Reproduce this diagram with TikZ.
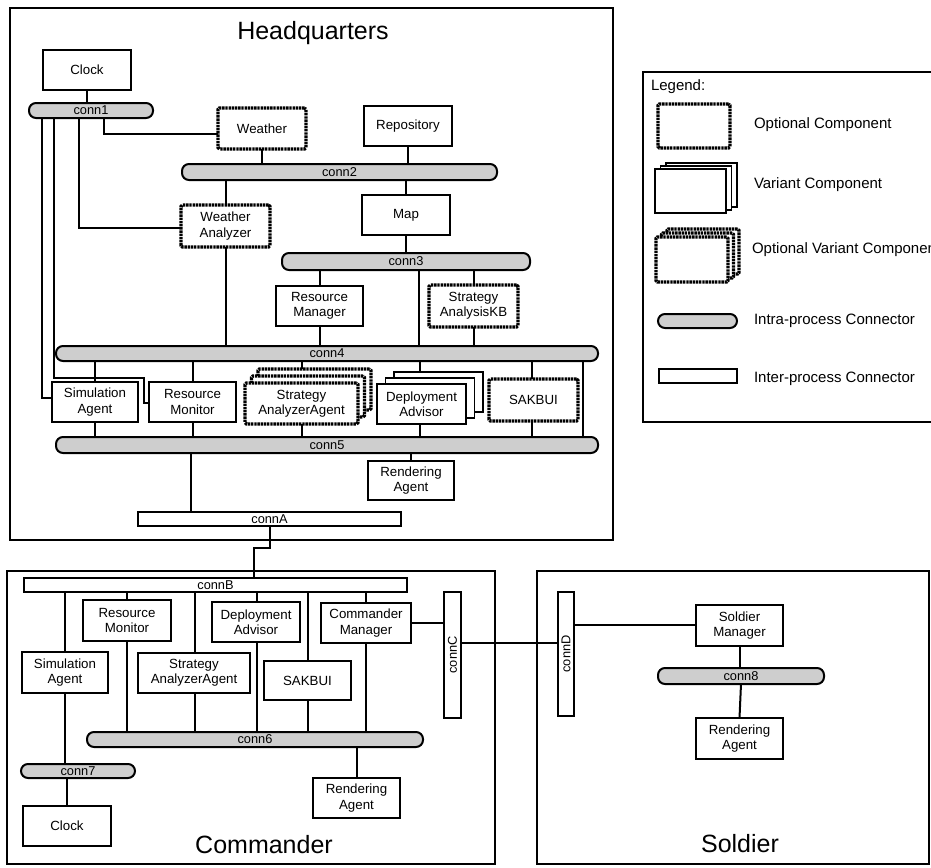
\documentclass[tikz,border=0pt]{standalone}
\usepackage{fontspec}
\setmainfont{Liberation Sans}
\usetikzlibrary{calc}
\definecolor{pillgray}{RGB}{206,206,206}
\newcommand\comptext{\fontsize{13.3}{15.3}\selectfont}
\newcommand\connlabel{\fontsize{12.8}{14}\selectfont}
\newcommand\legtext{\fontsize{15}{17}\selectfont}
\newcommand\titletext{\fontsize{25}{28}\selectfont}
\begin{document}
\begin{tikzpicture}[x=1pt,y=-1pt,
  every node/.style={inner sep=0pt, outer sep=0pt},
  comp/.style={draw, line width=1.9pt, fill=white, align=center, font=\comptext},
  optcomp/.style={comp, line width=3.2pt, dash pattern=on 2.4pt off 0.8pt, rounded corners=1.5pt},
  pill/.style={draw, line width=2pt, fill=pillgray, rounded corners=7pt, font=\connlabel},
  inter/.style={draw, line width=2pt, fill=white, font=\connlabel},
  wire/.style={line width=2pt},
  container/.style={draw, line width=2pt},
  title/.style={font=\titletext, anchor=base},
  legitem/.style={font=\legtext, anchor=west},
]
\useasboundingbox (0,0) rectangle (931,867);
\clip (0,0) rectangle (931,867);

% ---------------- containers ----------------
\node[container, minimum width=603pt, minimum height=532pt] (hq) at (311.5,274) {};
\node[container, minimum width=488pt, minimum height=293pt] (cmd) at (251,717.5) {};
\node[container, minimum width=392pt, minimum height=293pt] (sol) at (733,717.5) {};
\node[title] (hqtitle) at (313,40) {Headquarters};
\node[title] (cmdtitle) at (264,853) {Commander};
\node[title] (soltitle) at (740,852) {Soldier};

% ---------------- legend ----------------
\node[container, minimum width=300pt, minimum height=350pt, anchor=north west] (legend) at (643,72) {};
\node[legitem] (legtitle) at (651,87) {Legend:};
\node[optcomp, minimum width=72pt, minimum height=44pt] (lg1) at (694,126) {};
\node[legitem] (lg1t) at (754,125) {Optional Component};
\node[comp, minimum width=71pt, minimum height=44pt] (lg2c) at (701.5,185) {};
\node[comp, minimum width=71pt, minimum height=44pt] (lg2b) at (696,188) {};
\node[comp, minimum width=71pt, minimum height=44pt] (lg2) at (690.5,191) {};
\node[legitem] (lg2t) at (754,185) {Variant Component};
\node[optcomp, minimum width=72pt, minimum height=45pt] (lg3c) at (703,251.5) {};
\node[optcomp, minimum width=72pt, minimum height=45pt] (lg3b) at (697.5,255.5) {};
\node[optcomp, minimum width=72pt, minimum height=45pt] (lg3) at (692,259.5) {};
\node[legitem] (lg3t) at (752,250) {Optional Variant Component};
\node[pill, minimum width=79pt, minimum height=14pt] (lg4) at (697.5,321) {};
\node[legitem] (lg4t) at (754,321) {Intra-process Connector};
\node[inter, minimum width=78pt, minimum height=14pt] (lg5) at (698,376) {};
\node[legitem] (lg5t) at (754,379) {Inter-process Connector};

% ---------------- Headquarters ----------------
\node[comp, minimum width=88pt, minimum height=40pt] (clockH) at (87,70) {Clock};
\node[pill, minimum width=124pt, minimum height=15pt] (conn1) at (91,110.5) {conn1};
\node[optcomp, minimum width=88pt, minimum height=41pt] (weather) at (262,128.5) {Weather};
\node[comp, minimum width=88pt, minimum height=40pt] (repo) at (408,126) {Repository};
\node[pill, minimum width=315pt, minimum height=16pt] (conn2) at (339.5,172) {conn2};
\node[comp, minimum width=88pt, minimum height=40pt] (map) at (406,215) {Map};
\node[optcomp, minimum width=89pt, minimum height=42pt] (wa) at (225.5,226) {Weather\\Analyzer};
\node[pill, minimum width=248pt, minimum height=17pt] (conn3) at (406,261.5) {conn3};
\node[comp, minimum width=87pt, minimum height=40pt] (rman) at (319.5,306) {Resource\\Manager};
\node[optcomp, minimum width=89pt, minimum height=42pt] (kb) at (473.5,306) {Strategy\\AnalysisKB};
\node[pill, minimum width=542pt, minimum height=15pt] (conn4) at (327,353.5) {conn4};
\node[comp, minimum width=86pt, minimum height=40pt] (simH) at (95,402) {Simulation\\Agent};
\node[comp, minimum width=87pt, minimum height=40pt] (rmonH) at (192.5,402) {Resource\\Monitor};
\node[optcomp, minimum width=113pt, minimum height=41pt] (saaH3) at (314.5,389.5) {};
\node[optcomp, minimum width=113pt, minimum height=41pt] (saaH2) at (308,396.5) {};
\node[optcomp, minimum width=113pt, minimum height=41pt] (saaH) at (301.5,403.5) {Strategy\\AnalyzerAgent};
\node[comp, minimum width=89pt, minimum height=40pt] (daH3) at (438.5,392) {};
\node[comp, minimum width=89pt, minimum height=40pt] (daH2) at (430,398) {};
\node[comp, minimum width=89pt, minimum height=40pt] (daH) at (421.5,404) {Deployment\\Advisor};
\node[optcomp, minimum width=89pt, minimum height=42pt] (sakH) at (533.5,400) {SAKBUI};
\node[pill, minimum width=542pt, minimum height=16pt] (conn5) at (327,445) {conn5};
\node[comp, minimum width=86pt, minimum height=39pt] (rendH) at (411,480.5) {Rendering\\Agent};
\node[inter, minimum width=263pt, minimum height=14pt] (connA) at (269.5,519) {connA};

% HQ wiring
\draw[wire] (clockH.south) -- (clockH.south |- conn1.north);
\draw[wire] ([xshift=13pt]conn1.south) |- ([yshift=-5pt]weather.west);
\draw[wire] ([xshift=-12pt]conn1.south) |- ([yshift=-2pt]wa.west);
\draw[wire] ([xshift=-49pt]conn1.south) |- ([yshift=4pt]simH.west);
\draw[wire] ([xshift=-37pt]conn1.south) |- ($(rmonH.west)+(-5,-24)$) |- ([yshift=-1pt]rmonH.west);
\draw[wire] (weather.south) -- (weather.south |- conn2.north);
\draw[wire] (repo.south) -- (repo.south |- conn2.north);
\draw[wire] (map.north |- conn2.south) -- (map.north);
\draw[wire] (wa.north |- conn2.south) -- (wa.north);
\draw[wire] (map.south) -- (map.south |- conn3.north);
\draw[wire] (rman.north |- conn3.south) -- (rman.north);
\draw[wire] (kb.north |- conn3.south) -- (kb.north);
\draw[wire] ([xshift=13pt]conn3.south) -- ([xshift=13pt]conn3.south |- conn4.north);
\draw[wire] (wa.south) -- (wa.south |- conn4.north);
\draw[wire] (rman.south) -- (rman.south |- conn4.north);
\draw[wire] (kb.south) -- (kb.south |- conn4.north);
\draw[wire] (simH.north |- conn4.south) -- (simH.north);
\draw[wire] (rmonH.north |- conn4.south) -- (rmonH.north);
\draw[wire] (saaH.north |- conn4.south) -- (saaH.north |- saaH3.north);
\draw[wire] ([xshift=-1.5pt]daH.north |- conn4.south) -- ([xshift=-1.5pt]daH.north |- daH3.north);
\draw[wire] ([xshift=-1.5pt]sakH.north |- conn4.south) -- ([xshift=-1.5pt]sakH.north);
\draw[wire] ([xshift=256pt]conn4.south) -- ([xshift=256pt]conn4.south |- conn5.north);
\draw[wire] (simH.south) -- (simH.south |- conn5.north);
\draw[wire] (rmonH.south) -- (rmonH.south |- conn5.north);
\draw[wire] (saaH.south) -- (saaH.south |- conn5.north);
\draw[wire] ([xshift=-1.5pt]daH.south) -- ([xshift=-1.5pt]daH.south |- conn5.north);
\draw[wire] ([xshift=-1.5pt]sakH.south) -- ([xshift=-1.5pt]sakH.south |- conn5.north);
\draw[wire] (rendH.north |- conn5.south) -- (rendH.north);
\draw[wire] ([xshift=-136pt]conn5.south) -- ([xshift=-136pt]conn5.south |- connA.north);

% ---------------- Commander ----------------
\node[inter, minimum width=383pt, minimum height=14pt] (connB) at (215.5,585) {connB};
\node[comp, minimum width=88pt, minimum height=41pt] (rmonC) at (127,620.5) {Resource\\Monitor};
\node[comp, minimum width=88pt, minimum height=40pt] (daC) at (256,622) {Deployment\\Advisor};
\node[comp, minimum width=90pt, minimum height=40pt] (cmC) at (366,623) {Commander\\Manager};
\node[comp, minimum width=86pt, minimum height=41pt] (simC) at (65,672.5) {Simulation\\Agent};
\node[comp, minimum width=112pt, minimum height=40pt] (saaC) at (194,673) {Strategy\\AnalyzerAgent};
\node[comp, minimum width=87pt, minimum height=39pt] (sakC) at (307.5,680.5) {SAKBUI};
\node[pill, minimum width=336pt, minimum height=15pt] (conn6) at (255,739.5) {conn6};
\node[comp, minimum width=87pt, minimum height=40pt] (rendC) at (356.5,798) {Rendering\\Agent};
\node[pill, minimum width=114pt, minimum height=14pt] (conn7) at (78,771) {conn7};
\node[comp, minimum width=88pt, minimum height=40pt] (clockC) at (67,826) {Clock};
\node[inter, minimum width=17pt, minimum height=126pt] (connC) at (452.5,655) {};
\node[rotate=90, font=\connlabel] (connClbl) at (connC) {connC};

% connA to connB
\draw[wire] (connA.south) -- ++(0,22) -| ([xshift=38.5pt]connB.north);

% Commander wiring
\draw[wire] (simC.north |- connB.south) -- (simC.north);
\draw[wire] (rmonC.north |- connB.south) -- (rmonC.north);
\draw[wire] ([xshift=1pt]saaC.north |- connB.south) -- ([xshift=1pt]saaC.north);
\draw[wire] ([xshift=1pt]daC.north |- connB.south) -- ([xshift=1pt]daC.north);
\draw[wire] (sakC.north |- connB.south) -- (sakC.north);
\draw[wire] (cmC.north |- connB.south) -- (cmC.north);
\draw[wire] (rmonC.south) -- (rmonC.south |- conn6.north);
\draw[wire] ([xshift=1pt]saaC.south) -- ([xshift=1pt]saaC.south |- conn6.north);
\draw[wire] ([xshift=1pt]daC.south) -- ([xshift=1pt]daC.south |- conn6.north);
\draw[wire] (sakC.south) -- (sakC.south |- conn6.north);
\draw[wire] (cmC.south) -- (cmC.south |- conn6.north);
\draw[wire] (rendC.north |- conn6.south) -- (rendC.north);
\draw[wire] (simC.south) -- (simC.south |- conn7.north);
\draw[wire] (clockC.north |- conn7.south) -- (clockC.north);
\draw[wire] (cmC.east) -- (cmC.east -| connC.west);

% ---------------- Soldier ----------------
\node[inter, minimum width=16pt, minimum height=124pt] (connD) at (566,654) {};
\node[rotate=90, font=\connlabel] (connDlbl) at (connD) {connD};
\node[comp, minimum width=87pt, minimum height=41pt] (sm) at (739.5,625.5) {Soldier\\Manager};
\node[pill, minimum width=166pt, minimum height=16pt] (conn8) at (741,676) {conn8};
\node[comp, minimum width=87pt, minimum height=41pt] (rendS) at (739.5,738.5) {Rendering\\Agent};

\draw[wire] ([yshift=12pt]connC.east) -- ([yshift=12pt]connC.east -| connD.west);
\draw[wire] ([yshift=29pt]connD.east) -- ([yshift=29pt]connD.east -| sm.west);
\draw[wire] (sm.south) -- (sm.south |- conn8.north);
\draw[wire] (conn8.south) -- (rendS.north);
\end{tikzpicture}
\end{document}
